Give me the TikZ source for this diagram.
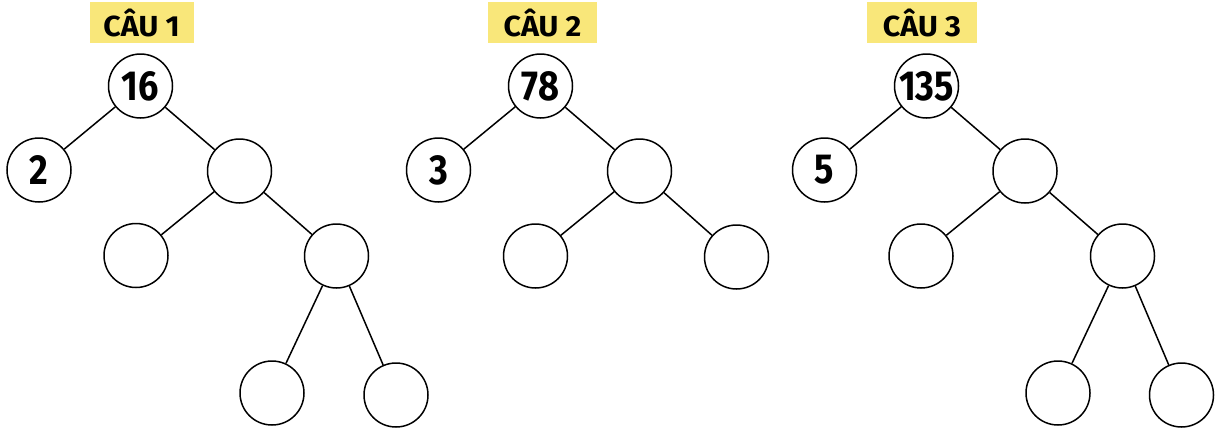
\documentclass[tikz,border=0pt]{standalone}
\usepackage{fontspec}
\newfontfamily\numfont{Fira Sans}[FakeStretch=0.86]
\newfontfamily\tagfont{Fira Sans}[FakeStretch=1.05]
\definecolor{labelyellow}{HTML}{F9E77A}
\begin{document}
\begin{tikzpicture}[x=1pt,y=-1pt,
  nd/.style={circle,draw=black,line width=1.5pt,fill=white,minimum size=64pt,inner sep=0pt,
    font=\numfont\bfseries\fontsize{42}{42}\selectfont},
  edge/.style={line width=1.5pt,black},
  tag/.style={fill=labelyellow,minimum width=104pt,minimum height=41pt,inner sep=0pt,
    font=\tagfont\bfseries\fontsize{29}{29}\selectfont}]
\useasboundingbox (0,0) rectangle (1223,432);
% Tree 1
\node[tag] (t1) at (141.5,22.5) {CÂU 1};
\node[nd] (a0) at (140.5,86) {16};
\node[nd] (a1) at (39,170) {2};
\node[nd] (a2) at (239.5,171) {};
\node[nd] (a3) at (136,255.5) {};
\node[nd] (a4) at (336.5,256) {};
\node[nd] (a5) at (272,393) {};
\node[nd] (a6) at (396,395) {};
\draw[edge] (a0) -- (a1);
\draw[edge] (a0) -- (a2);
\draw[edge] (a2) -- (a3);
\draw[edge] (a2) -- (a4);
\draw[edge] (a4) -- (a5);
\draw[edge] (a4) -- (a6);
% Tree 2
\node[tag,minimum width=109pt] (t2) at (542.5,22.5) {CÂU 2};
\node[nd] (b0) at (540.5,86) {78};
\node[nd] (b1) at (438.5,170) {3};
\node[nd] (b2) at (639.5,171) {};
\node[nd] (b3) at (535.5,256) {};
\node[nd] (b4) at (736.5,257) {};
\draw[edge] (b0) -- (b1);
\draw[edge] (b0) -- (b2);
\draw[edge] (b2) -- (b3);
\draw[edge] (b2) -- (b4);
% Tree 3
\node[tag,minimum width=110pt] (t3) at (922,22.5) {CÂU 3};
\node[nd] (c0) at (926.5,86) {135};
\node[nd] (c1) at (824.5,170) {5};
\node[nd] (c2) at (1025,171) {};
\node[nd] (c3) at (921,256) {};
\node[nd] (c4) at (1122.5,256) {};
\node[nd] (c5) at (1058,393) {};
\node[nd] (c6) at (1181.5,395) {};
\draw[edge] (c0) -- (c1);
\draw[edge] (c0) -- (c2);
\draw[edge] (c2) -- (c3);
\draw[edge] (c2) -- (c4);
\draw[edge] (c4) -- (c5);
\draw[edge] (c4) -- (c6);
\end{tikzpicture}
\end{document}
